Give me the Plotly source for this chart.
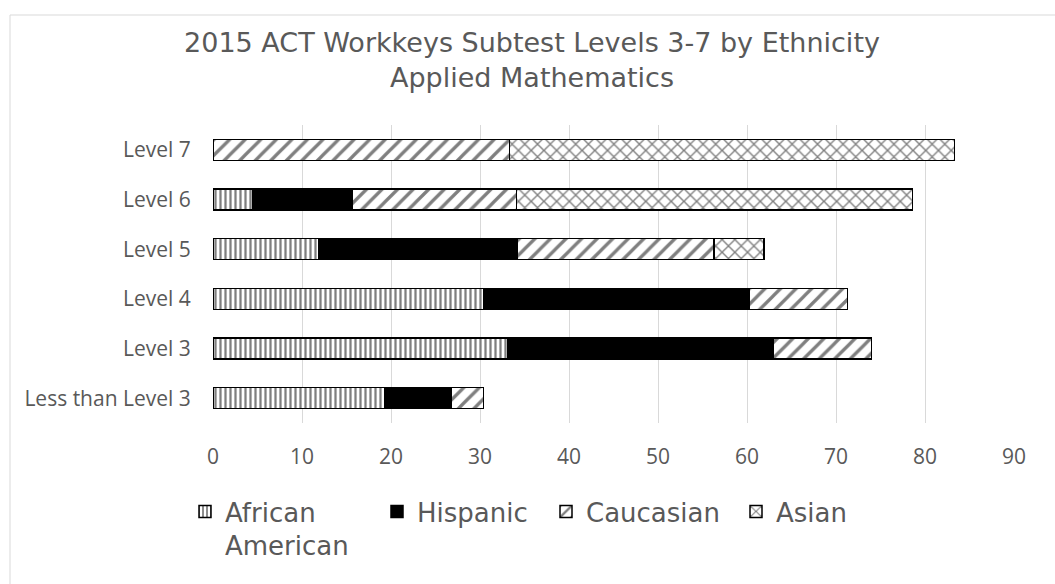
import plotly.graph_objects as go

categories = ["Less than Level 3", "Level 3", "Level 4", "Level 5", "Level 6", "Level 7"]
african_american = [19.3, 33.1, 30.4, 11.9, 4.5, 0.0]
hispanic = [7.5, 29.9, 29.9, 22.3, 11.2, 0.0]
caucasian = [3.6, 11.0, 11.0, 22.1, 18.4, 33.3]
asian = [0.0, 0.0, 0.0, 5.6, 44.5, 50.0]
x_ticks = [0, 10, 20, 30, 40, 50, 60, 70, 80, 90]

W, H = 1055, 584
L, R, T, B = 213, 41, 125, 161
pw, ph = W - L - R, H - T - B

def px_x(p):
    return (p - L) / pw

def px_y(p):
    return (H - B - p) / ph

series = [
    ("African<br>American", african_american, dict(shape="|", fgcolor="black", bgcolor="white", size=5, solidity=0.45), 147),
    ("Hispanic", hispanic, None, 124),
    ("Caucasian", caucasian, dict(shape="/", fgcolor="black", bgcolor="white", size=11, solidity=0.3), 145),
    ("Asian", asian, dict(shape="x", fgcolor="black", bgcolor="white", size=9, solidity=0.28), 100),
]

fig = go.Figure()
for name, vals, pat, lw in series:
    marker = dict(color="black" if pat is None else "white", line=dict(color="black", width=1.5))
    if pat is not None:
        marker["pattern"] = pat
    fig.add_trace(go.Bar(y=categories, x=vals, name=name, orientation="h", marker=marker,
                         legendwidth=lw))

fig.update_layout(
    width=W, height=H,
    barmode="stack", bargap=0.58,
    plot_bgcolor="white", paper_bgcolor="white",
    margin=dict(l=L, r=R, t=T, b=B),
    title=dict(
        text="2015 ACT Workkeys Subtest Levels 3-7 by Ethnicity<br>Applied Mathematics",
        x=(184 + 880) / 2 / W, xanchor="center", xref="container",
        y=1 - 52 / H, yanchor="top", yref="container",
        font=dict(family="DejaVu Sans", size=27, color="#595959"),
    ),
    xaxis=dict(
        range=[0, 90], tickvals=x_ticks, showgrid=True, gridcolor="#d9d9d9", gridwidth=1,
        zeroline=False, showline=False, ticks="outside", ticklen=15, tickcolor="rgba(0,0,0,0)",
        tickfont=dict(family="Open Sans", size=21, color="#595959"), automargin=False,
    ),
    yaxis=dict(
        categoryorder="array", categoryarray=categories,
        showgrid=False, zeroline=False, showline=False,
        ticks="outside", ticklen=17, tickcolor="rgba(0,0,0,0)",
        tickfont=dict(family="Open Sans", size=21, color="#595959"), automargin=False,
    ),
    legend=dict(
        orientation="h", xref="container", yref="container",
        x=185 / W, xanchor="left", y=1 - 488 / H, yanchor="top",
        font=dict(family="DejaVu Sans", size=26, color="#595959"),
        valign="top", traceorder="normal", itemwidth=30,
    ),
    showlegend=True,
    shapes=[dict(type="rect", xref="paper", yref="paper",
                 x0=px_x(10), x1=px_x(1100), y0=px_y(700), y1=px_y(15),
                 line=dict(color="#d9d9d9", width=1), fillcolor="rgba(0,0,0,0)", layer="below")],
)

fig.write_html("out.html", config={"displayModeBar": False},
               post_script="document.body.style.margin='0';")
